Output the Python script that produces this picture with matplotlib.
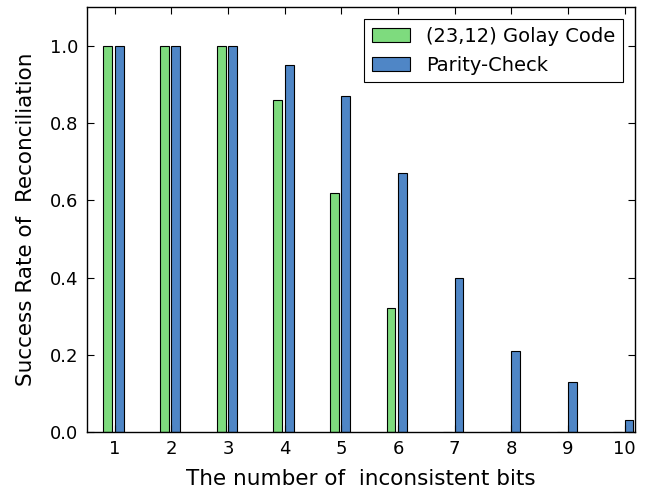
import matplotlib
matplotlib.use("Agg")
import matplotlib.pyplot as plt
import numpy as np

bits = [1, 2, 3, 4, 5, 6, 7, 8, 9, 10]
golay = [1.0, 1.0, 1.0, 0.86, 0.62, 0.32, 0.0, 0.0, 0.0, 0.0]
parity = [1.0, 1.0, 1.0, 0.95, 0.87, 0.67, 0.40, 0.21, 0.13, 0.03]

fig = plt.figure(figsize=(6.48, 4.92), dpi=100)
ax = fig.add_axes([0.1335, 0.122, 0.846, 0.863])
x = np.array(bits, dtype=float)
w = 0.155
ax.bar(x - 0.2, golay, width=w, align='edge', color='#7edb7e', edgecolor='black',
       linewidth=0.8, label='(23,12) Golay Code')
ax.bar(x, parity, width=w, align='edge', color='#4f86c6', edgecolor='black',
       linewidth=0.8, label='Parity-Check')

ax.set_xlim(0.5, 10.18)
ax.set_ylim(0, 1.1)
ax.set_xticks(bits)
ax.set_yticks([0.0, 0.2, 0.4, 0.6, 0.8, 1.0])
ax.set_yticklabels(['0.0', '0.2', '0.4', '0.6', '0.8', '1.0'])
ax.tick_params(direction='in', top=True, right=True, length=5, labelsize=13, pad=6)
ax.set_xlabel('The number of  inconsistent bits', fontsize=15.5, labelpad=8)
ax.set_ylabel('Success Rate of  Reconciliation', fontsize=15.5, labelpad=10)
leg = ax.legend(loc='upper right', fontsize=14, fancybox=False, framealpha=1,
                edgecolor='black', handlelength=2.0, borderaxespad=0.6)
leg.get_frame().set_linewidth(0.8)
for s in ax.spines.values():
    s.set_linewidth(1.0)

fig.savefig('out.png', dpi=100)
